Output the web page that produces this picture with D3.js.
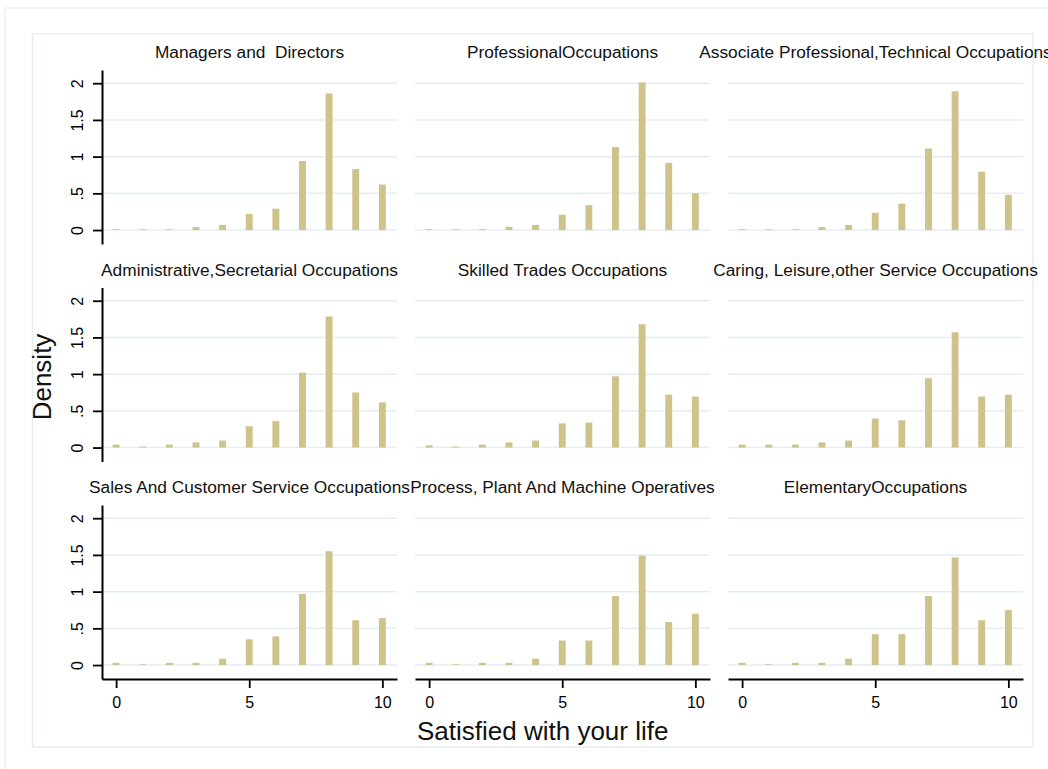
<!DOCTYPE html>
<html>
<head>
<meta charset="utf-8">
<script src="https://cdn.jsdelivr.net/npm/d3@7"></script>
<style>
  body { margin: 0; background: #fff; }
  svg { display: block; font-family: "Liberation Sans", Arial, sans-serif; }
</style>
</head>
<body>
<div id="chart"></div>
<script>
// panel titles, in by-group order
const occupations = [
  "Managers and  Directors",
  "ProfessionalOccupations",
  "Associate Professional,Technical Occupations",
  "Administrative,Secretarial Occupations",
  "Skilled Trades Occupations",
  "Caring, Leisure,other Service Occupations",
  "Sales And Customer Service Occupations",
  "Process, Plant And Machine Operatives",
  "ElementaryOccupations"
];

const lifeScores = [0, 1, 2, 3, 4, 5, 6, 7, 8, 9, 10];

// density, score 0..10
const managersDirectors   = [0.01, 0.01, 0.01, 0.04, 0.07, 0.22, 0.29, 0.94, 1.86, 0.83, 0.62];
const professionalOcc     = [0.01, 0.01, 0.01, 0.045, 0.07, 0.21, 0.34, 1.13, 2.01, 0.915, 0.50];
const associateTechnical  = [0.01, 0.01, 0.01, 0.04, 0.07, 0.235, 0.36, 1.11, 1.89, 0.795, 0.48];
const adminSecretarial    = [0.04, 0.014, 0.04, 0.07, 0.095, 0.29, 0.36, 1.02, 1.785, 0.75, 0.615];
const skilledTrades       = [0.03, 0.014, 0.04, 0.07, 0.095, 0.33, 0.34, 0.97, 1.68, 0.72, 0.695];
const caringLeisure       = [0.04, 0.04, 0.04, 0.07, 0.095, 0.395, 0.37, 0.945, 1.57, 0.695, 0.72];
const salesCustomer       = [0.03, 0.01, 0.03, 0.03, 0.087, 0.35, 0.39, 0.97, 1.55, 0.61, 0.64];
const processPlant        = [0.03, 0.01, 0.03, 0.03, 0.087, 0.334, 0.334, 0.94, 1.49, 0.585, 0.70];
const elementaryOcc       = [0.03, 0.01, 0.03, 0.03, 0.087, 0.42, 0.42, 0.94, 1.465, 0.61, 0.75];

const panelValues = [
  managersDirectors, professionalOcc, associateTechnical,
  adminSecretarial, skilledTrades, caringLeisure,
  salesCustomer, processPlant, elementaryOcc
];

const yTicks = [0, 0.5, 1, 1.5, 2];
const yTickLabels = ["0", ".5", "1", "1.5", "2"];
const xTicks = [0, 5, 10];

const W = 1048, H = 769;
const plotW = 295, plotH = 174;
const colLeft = c => 102 + c * 313;
const rowTop = r => 70 + r * 217.5;

const barColor = "#cdc38b";
const gridColor = "#e4eef0";

const svg = d3.select("#chart").append("svg")
  .attr("width", W)
  .attr("height", H);

// outer + plot-region frames
svg.append("rect")
  .attr("x", 5).attr("y", 8)
  .attr("width", 1100).attr("height", 800)
  .attr("fill", "none").attr("stroke", "#e9f0f2").attr("stroke-width", 1.5);
svg.append("rect")
  .attr("x", 32.5).attr("y", 34)
  .attr("width", 1000.5).attr("height", 713)
  .attr("fill", "none").attr("stroke", "#e6eef0").attr("stroke-width", 1.5);

const x = d3.scaleLinear().domain([-0.53, 10.55]).range([0, plotW]);
const y = d3.scaleLinear().domain([-0.19, 2.18]).range([plotH, 0]);
const halfBar = 0.13;

occupations.forEach((name, i) => {
  const r = Math.floor(i / 3), c = i % 3;
  const g = svg.append("g")
    .attr("transform", `translate(${colLeft(c)},${rowTop(r)})`);

  // grid
  g.selectAll("line.grid")
    .data(yTicks)
    .enter().append("line")
    .attr("class", "grid")
    .attr("x1", 0).attr("x2", plotW)
    .attr("y1", d => y(d)).attr("y2", d => y(d))
    .attr("stroke", gridColor)
    .attr("stroke-width", 1.5);

  // bars
  const vals = panelValues[i];
  g.selectAll("rect.bar")
    .data(lifeScores)
    .enter().append("rect")
    .attr("class", "bar")
    .attr("x", d => x(d - halfBar))
    .attr("width", x(halfBar) - x(-halfBar))
    .attr("y", (d, j) => y(vals[j]))
    .attr("height", (d, j) => y(0) - y(vals[j]))
    .attr("fill", barColor);

  // title
  svg.append("text")
    .attr("x", colLeft(c) + plotW / 2)
    .attr("y", rowTop(r) - 12)
    .attr("text-anchor", "middle")
    .attr("font-size", 17.3)
    .attr("fill", "#111")
    .style("white-space", "pre")
    .text(name);

  if (c === 0) {
    const ax = g.append("g")
      .call(d3.axisLeft(y)
        .tickValues(yTicks)
        .tickFormat((d, k) => yTickLabels[k])
        .tickSize(9)
        .tickSizeOuter(0));
    ax.select(".domain").attr("stroke", "#000").attr("stroke-width", 2);
    ax.selectAll(".tick line").attr("stroke", "#000").attr("stroke-width", 1.8);
    ax.selectAll(".tick text")
      .attr("x", null).attr("dy", null)
      .attr("text-anchor", "middle")
      .attr("transform", "translate(-19,0) rotate(-90)")
      .attr("font-size", 16)
      .attr("font-family", "Liberation Sans, Arial, sans-serif")
      .attr("fill", "#000");
  }

  if (r === 2) {
    const ax = g.append("g")
      .attr("transform", `translate(0,${plotH})`)
      .call(d3.axisBottom(x)
        .tickValues(xTicks)
        .tickSize(9)
        .tickPadding(9)
        .tickSizeOuter(0));
    ax.select(".domain").attr("stroke", "#000").attr("stroke-width", 2);
    ax.selectAll(".tick line").attr("stroke", "#000").attr("stroke-width", 1.8);
    ax.selectAll(".tick text")
      .attr("font-size", 16)
      .attr("font-family", "Liberation Sans, Arial, sans-serif")
      .attr("fill", "#000");
  }
});

// axis titles
svg.append("text")
  .attr("transform", "translate(50.5,377) rotate(-90)")
  .attr("text-anchor", "middle")
  .attr("font-size", 26)
  .attr("fill", "#111")
  .text("Density");

svg.append("text")
  .attr("x", 417)
  .attr("y", 740)
  .attr("font-size", 26)
  .attr("fill", "#111")
  .text("Satisfied with your life");
</script>
</body>
</html>
